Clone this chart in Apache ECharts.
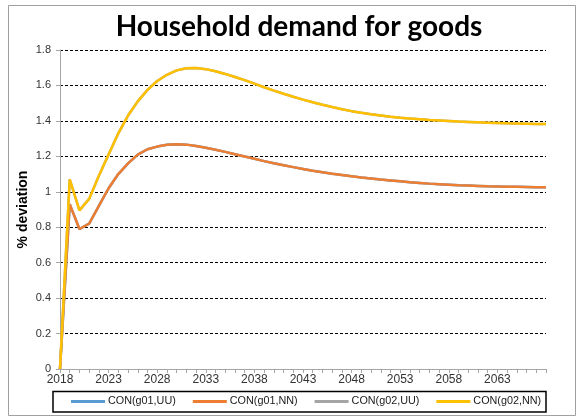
<!DOCTYPE html>
<html>
<head>
<meta charset="utf-8">
<script src="https://cdn.jsdelivr.net/npm/echarts@6/dist/echarts.min.js"></script>
<style>
  html, body { margin: 0; padding: 0; background: #ffffff; }
  #chart { width: 584px; height: 419px; }
</style>
</head>
<body>
<div id="chart"></div>
<script>
// Years on the horizontal axis
const years = [];
for (let y = 2018; y <= 2068; y++) years.push(String(y));

// Household goods consumption, % deviation from baseline
const conG01UU = [0, 0.93, 0.79, 0.82, 0.92, 1.02, 1.10, 1.16, 1.21, 1.24, 1.255,
  1.265, 1.268, 1.266, 1.258, 1.248, 1.237, 1.225, 1.212, 1.199, 1.186,
  1.173, 1.161, 1.150, 1.139, 1.129, 1.119, 1.110, 1.102, 1.095, 1.088,
  1.081, 1.075, 1.069, 1.064, 1.059, 1.054, 1.050, 1.046, 1.043, 1.040,
  1.037, 1.035, 1.033, 1.031, 1.030, 1.029, 1.028, 1.027, 1.026, 1.025];
const conG01NN = [0, 0.93, 0.79, 0.82, 0.92, 1.02, 1.10, 1.16, 1.21, 1.24, 1.255,
  1.265, 1.268, 1.266, 1.258, 1.248, 1.237, 1.225, 1.212, 1.199, 1.186,
  1.173, 1.161, 1.150, 1.139, 1.129, 1.119, 1.110, 1.102, 1.095, 1.088,
  1.081, 1.075, 1.069, 1.064, 1.059, 1.054, 1.050, 1.046, 1.043, 1.040,
  1.037, 1.035, 1.033, 1.031, 1.030, 1.029, 1.028, 1.027, 1.026, 1.025];
const conG02UU = [0, 1.07, 0.895, 0.96, 1.09, 1.21, 1.33, 1.43, 1.51, 1.575, 1.625,
  1.66, 1.685, 1.697, 1.698, 1.692, 1.680, 1.665, 1.648, 1.630, 1.610,
  1.590, 1.571, 1.553, 1.536, 1.520, 1.505, 1.491, 1.478, 1.466, 1.455,
  1.446, 1.438, 1.431, 1.424, 1.418, 1.413, 1.409, 1.405, 1.402, 1.399,
  1.396, 1.394, 1.392, 1.390, 1.388, 1.386, 1.385, 1.384, 1.383, 1.382];
const conG02NN = [0, 1.07, 0.895, 0.96, 1.09, 1.21, 1.33, 1.43, 1.51, 1.575, 1.625,
  1.66, 1.685, 1.697, 1.698, 1.692, 1.680, 1.665, 1.648, 1.630, 1.610,
  1.590, 1.571, 1.553, 1.536, 1.520, 1.505, 1.491, 1.478, 1.466, 1.455,
  1.446, 1.438, 1.431, 1.424, 1.418, 1.413, 1.409, 1.405, 1.402, 1.399,
  1.396, 1.394, 1.392, 1.390, 1.388, 1.386, 1.385, 1.384, 1.383, 1.382];

const seriesNames = ['CON(g01,UU)', 'CON(g01,NN)', 'CON(g02,UU)', 'CON(g02,NN)'];
const seriesData = [conG01UU, conG01NN, conG02UU, conG02NN];
const seriesColors = ['#5B9BD5', '#ED7D31', '#A5A5A5', '#FFC000'];

const chart = echarts.init(document.getElementById('chart'), null, { renderer: 'canvas' });

const font = 'Liberation Sans, Arial, sans-serif';

chart.setOption({
  animation: false,
  backgroundColor: '#ffffff',
  title: {
    text: 'Household demand for goods',
    left: 294,
    textAlign: 'center',
    top: 8,
    textStyle: { fontFamily: 'Lato, Open Sans, sans-serif', fontWeight: 'bold', fontSize: 28, color: '#000000' }
  },
  graphic: [
    { type: 'rect', shape: { x: 8.5, y: 5.5, width: 567, height: 410 },
      style: { fill: 'none', stroke: '#a0a0a0', lineWidth: 1 }, silent: true },
    { type: 'rect', shape: { x: 53, y: 391.5, width: 493, height: 20.5 },
      style: { fill: 'none', stroke: '#000000', lineWidth: 1.5 }, silent: true }
  ],
  legend: {
    data: seriesNames,
    left: 71,
    top: 396,
    padding: 0,
    itemWidth: 34,
    itemHeight: 3,
    itemGap: 17,
    icon: 'rect',
    textStyle: { fontFamily: font, fontSize: 10.8, color: '#1a1a1a', padding: [0, 0, 0, -2] }
  },
  grid: { left: 60, right: 38, top: 50, bottom: 50 },
  xAxis: {
    type: 'category',
    data: years,
    boundaryGap: false,
    axisLine: { lineStyle: { color: '#a6a6a6', width: 1 } },
    axisTick: { show: true, interval: 0, length: 4, lineStyle: { color: '#a6a6a6' } },
    axisLabel: {
      interval: (i) => i % 5 === 0 && i < years.length - 1,
      fontFamily: font, fontSize: 12, color: '#333333', margin: 5
    },
    splitLine: { show: false }
  },
  yAxis: {
    type: 'value',
    min: 0,
    max: 1.8,
    interval: 0.2,
    name: '% deviation',
    nameLocation: 'middle',
    nameGap: 30,
    nameMoveOverlap: false,
    nameTextStyle: { fontFamily: font, fontWeight: 'bold', fontSize: 14, color: '#000000' },
    axisLine: { show: true, lineStyle: { color: '#a6a6a6', width: 1 } },
    axisTick: { show: true, length: 4, lineStyle: { color: '#a6a6a6' } },
    axisLabel: { fontFamily: font, fontSize: 11, color: '#333333', margin: 9 },
    splitLine: { show: true, lineStyle: { color: '#000000', type: [3, 2], width: 1 } }
  },
  series: seriesNames.map((name, i) => ({
    name: name,
    type: 'line',
    data: seriesData[i],
    symbol: 'none',
    smooth: false,
    lineStyle: { color: seriesColors[i], width: 2.5 },
    itemStyle: { color: seriesColors[i] },
    z: 2 + i
  }))
});
</script>
</body>
</html>
